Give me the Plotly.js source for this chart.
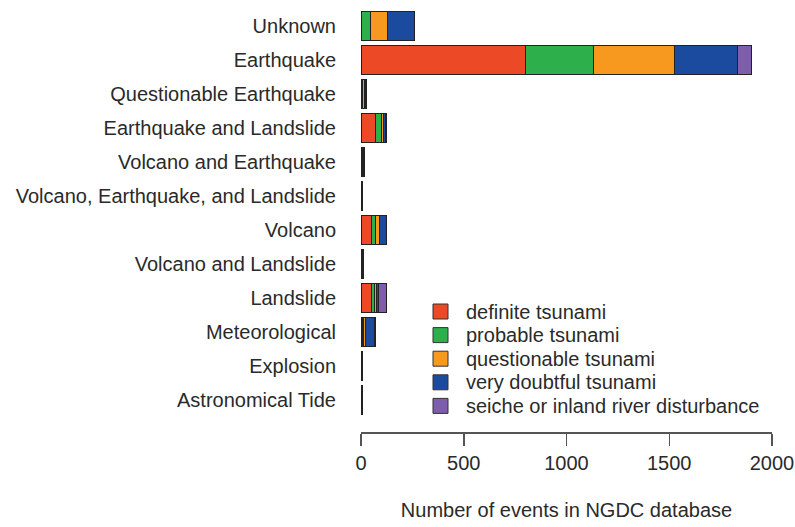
<!DOCTYPE html>
<html>
<head>
<meta charset="utf-8">
<script src="https://cdn.plot.ly/plotly-3.0.1.min.js"></script>
<style>
html,body{margin:0;padding:0;background:#fff;}
#chart{width:795px;height:527px;}
</style>
</head>
<body>
<div id="chart"></div>
<script>
// ---- data ----
const categories = [
  "Unknown",
  "Earthquake",
  "Questionable Earthquake",
  "Earthquake and Landslide",
  "Volcano and Earthquake",
  "Volcano, Earthquake, and Landslide",
  "Volcano",
  "Volcano and Landslide",
  "Landslide",
  "Meteorological",
  "Explosion",
  "Astronomical Tide"
];
const definite     = [3, 800, 5, 69, 8, 3, 50, 6, 49, 8, 2, 0];
const probable     = [41, 333, 4, 29, 3, 1, 20, 2, 19, 6, 0, 0];
const questionable = [85, 393, 6, 10, 2, 1, 22, 2, 8, 8, 2, 2];
const veryDoubtful = [131, 305, 7, 12, 2, 0, 30, 4, 10, 45, 1, 3];
const seiche       = [0, 71, 5, 6, 0, 0, 4, 0, 37, 3, 0, 0];
const seriesNames  = ["definite tsunami", "probable tsunami", "questionable tsunami", "very doubtful tsunami", "seiche or inland river disturbance"];
const seriesColors = ["#EC4A26", "#2DB04B", "#F7991F", "#1B4B9E", "#7D5DAC"];
const xTicks       = [0, 500, 1000, 1500, 2000];
const xTitle       = "Number of events in NGDC database";

const seriesValues = [definite, probable, questionable, veryDoubtful, seiche];

const FONT = "Liberation Sans, Arial, Helvetica, sans-serif";
const TXT = "#2a2a2a";

const traces = seriesValues.map((vals, i) => ({
  type: "bar",
  orientation: "h",
  name: seriesNames[i],
  y: categories,
  x: vals,
  marker: { color: seriesColors[i], line: { color: "#222", width: 1 } },
  showlegend: false,
  hoverinfo: "x+y+name"
}));

// plot-area geometry in pixels (layout only)
const ML = 361, MR = 23, MT = 9, MB = 95;
const PW = 795 - ML - MR, PH = 527 - MT - MB;
const px2x = p => (p - ML) / PW;
const py2y = p => (527 - MB - p) / PH;

// legend drawn as shapes + annotations built from the series arrays
const legY0 = 311.5, legDY = 23.6, sq = 15;
const shapes = [], annotations = [];
seriesNames.forEach((nm, i) => {
  const cy = legY0 + i * legDY;
  shapes.push({
    type: "rect", xref: "paper", yref: "paper",
    x0: px2x(433), x1: px2x(433 + sq),
    y0: py2y(cy + sq / 2), y1: py2y(cy - sq / 2),
    fillcolor: seriesColors[i], line: { color: "#333", width: 1 }
  });
  annotations.push({
    xref: "paper", yref: "paper", x: px2x(464), y: py2y(cy),
    xanchor: "left", yanchor: "middle", showarrow: false,
    text: nm, font: { family: FONT, size: 20, color: TXT }
  });
});

const layout = {
  width: 795, height: 527,
  margin: { l: ML, r: MR, t: MT, b: MB, pad: 0 },
  paper_bgcolor: "#fff", plot_bgcolor: "#fff",
  barmode: "stack",
  bargap: 0.15,
  font: { family: FONT, size: 20, color: TXT },
  xaxis: {
    range: [0, 2000],
    tickvals: xTicks,
    ticktext: xTicks.map(String),
    showgrid: false, zeroline: false,
    showline: true, linecolor: "#555", linewidth: 1.5,
    ticks: "outside", ticklen: 12, tickwidth: 1.5, tickcolor: "#555",
    tickfont: { family: FONT, size: 20, color: TXT },
    anchor: "free", position: 0,
    title: { text: xTitle, font: { family: FONT, size: 20, color: TXT }, standoff: 30 },
    fixedrange: true
  },
  yaxis: {
    type: "category",
    categoryorder: "array",
    categoryarray: categories,
    range: [categories.length - 0.5, -0.5],
    domain: [py2y(417), 1],
    showgrid: false, zeroline: false, showline: false,
    ticks: "", ticklabelstandoff: 24,
    tickfont: { family: FONT, size: 20, color: TXT },
    fixedrange: true
  },
  shapes: shapes,
  annotations: annotations,
  showlegend: false
};

Plotly.newPlot("chart", traces, layout, { displayModeBar: false, staticPlot: true });
</script>
</body>
</html>
